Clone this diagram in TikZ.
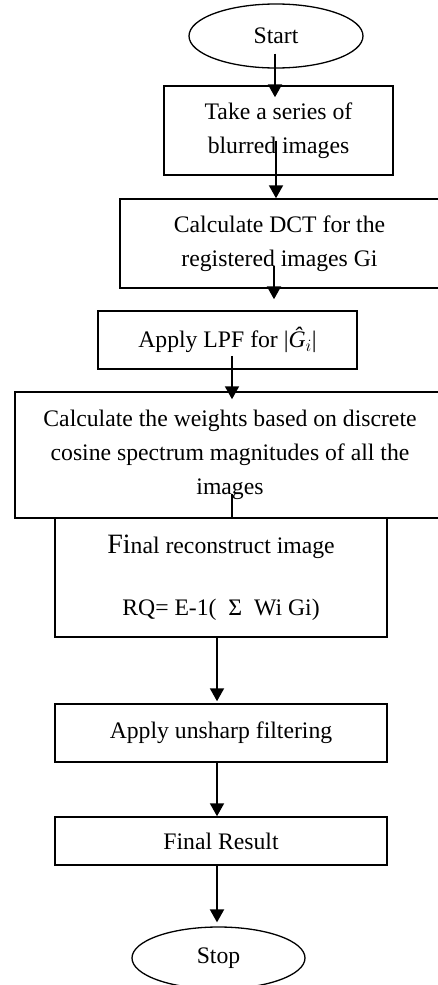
\documentclass[tikz,border=0pt]{standalone}
\usepackage{fontspec}
\setmainfont{Liberation Serif}
\usetikzlibrary{arrows.meta,calc,shapes.geometric}
\tikzset{
  box/.style={draw, line width=1.5pt, rectangle, inner sep=0pt, align=center},
  oval/.style={draw, line width=1.3pt, ellipse, inner sep=0pt},
  arr/.style={line width=2pt, -{Triangle[length=13pt,width=14pt]}},
  plainline/.style={line width=2pt}
}
\begin{document}
\begin{tikzpicture}[x=1pt,y=-1pt,font=\fontsize{23.7}{34}\selectfont]
\clip (0,0) rectangle (438,985);
\fill[white] (0,0) rectangle (438,985);
\node[oval, minimum width=174pt, minimum height=64pt] (start) at (276,36) {Start};
\node[box, minimum width=229pt, minimum height=89pt] (b1) at (278.5,130.5) {Take a series of\\blurred images};
\node[box, minimum width=319pt, minimum height=89pt] (b2) at (279.5,243.5) {Calculate DCT for the\\registered images Gi};
\node[box, minimum width=259pt, minimum height=58pt] (b3) at (227.5,340) {Apply LPF for |\textit{Ĝ}$_{i}$|};
\node[box, minimum width=430pt, minimum height=126pt] (b4) at (230,455) {Calculate the weights based on discrete\\cosine spectrum magnitudes of all the\\images};
\node[box, minimum width=332pt, minimum height=119pt] (b5) at (221,577.5) {{\fontsize{28}{34}\selectfont Fi}nal reconstruct image\\[28pt]RQ= E-1(\ \ Σ\ \ Wi Gi)};
\node[box, minimum width=332pt, minimum height=58pt] (b6) at (221,733) {Apply unsharp filtering};
\node[box, minimum width=332pt, minimum height=48pt] (b7) at (221,841) {Final Result};
\node[oval, minimum width=173pt, minimum height=62pt] (stop) at (218.5,958) {Stop};
% connectors
\coordinate (s1) at ($(start.south)+(-1,-15)$);
\coordinate (e1) at ($(b1.north)+(-3.5,12)$);
\draw[arr] (s1) -- (s1 |- e1);
\coordinate (s2) at ($(b1.south)+(-2.5,-35)$);
\draw[arr] (s2) -- (s2 |- b2.north);
\coordinate (s3) at ($(b2.south)+(-5.5,-23)$);
\coordinate (e3) at ($(b3.north)+(0,-11)$);
\draw[arr] (s3) -- (s3 |- e3);
\coordinate (s4) at ($(b3.south)+(4.5,-14)$);
\coordinate (e4) at ($(b4.north)+(0,8)$);
\draw[arr] (s4) -- (s4 |- e4);
\coordinate (s5) at ($(b4.south)+(2,-25)$);
\draw[plainline] (s5) -- (s5 |- b4.south);
\coordinate (s6) at ($(b5.south)+(-4,0)$);
\coordinate (e6) at ($(b6.north)+(0,-2)$);
\draw[arr] (s6) -- (s6 |- e6);
\coordinate (s7) at ($(b6.south)+(-4,0)$);
\draw[arr] (s7) -- (s7 |- b7.north);
\coordinate (s8) at ($(b7.south)+(-4,0)$);
\coordinate (e8) at ($(stop.north)+(0,-4)$);
\draw[arr] (s8) -- (s8 |- e8);
\end{tikzpicture}
\end{document}
